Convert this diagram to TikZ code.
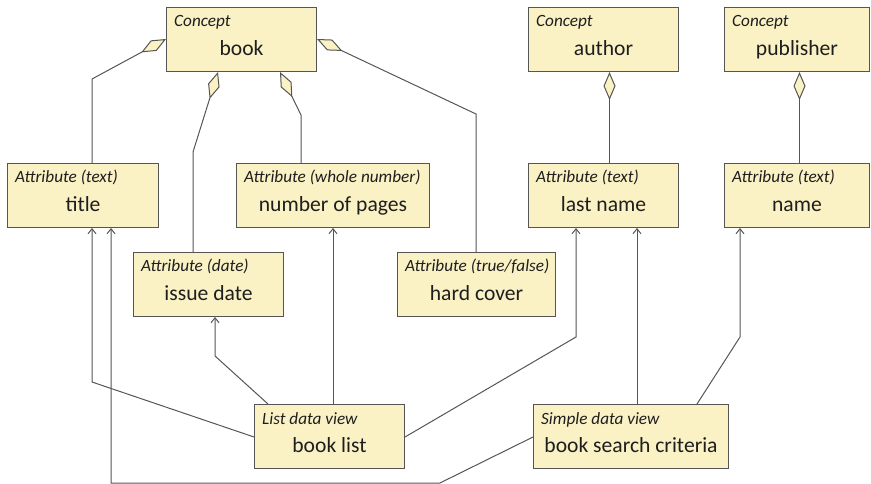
\documentclass[tikz,border=0pt]{standalone}
\usepackage{fontspec}
\setmainfont{Carlito}
\usetikzlibrary{arrows.meta, positioning}
\definecolor{BoxYellow}{RGB}{250, 242, 197}
\definecolor{LineGray}{RGB}{85, 85, 85}
\definecolor{TextGray}{RGB}{30, 30, 30}

\begin{document}
\begin{tikzpicture}[x=1pt, y=-1pt,
    box/.style={draw=LineGray, fill=BoxYellow, line width=1pt, anchor=north west,
      inner sep=0pt, text height=48pt, text depth=16pt,
      font=\fontsize{21.6}{25}\selectfont, text=TextGray},
    kind/.style={anchor=base west, inner sep=0pt,
      font=\fontsize{17.2}{19}\selectfont\itshape, text=TextGray},
    has/.style={draw=LineGray, line width=1pt,
      {Diamond[length=28pt, width=12pt, fill=BoxYellow]}-},
    uses/.style={draw=LineGray, line width=1pt,
      -{Straight Barb[length=5pt, width=8pt]}}]
    \useasboundingbox (0,0) rectangle (871,484);

    % Concepts
    \node[box, minimum width=150pt] (book) at (166,7) {book};
    \node[box, minimum width=150pt] (author) at (528,7) {author};
    \node[box, minimum width=145pt] (publisher) at (724,7) {publisher};

    % Attributes
    \node[box, minimum width=151pt] (title) at (7,163) {title};
    \node[box, minimum width=193pt] (pages) at (236,163) {number of pages};
    \node[box, minimum width=150pt] (lastname) at (528,163) {last name};
    \node[box, minimum width=145pt] (name) at (724,163) {name};
    \node[box, minimum width=150pt] (issue) at (133,252) {issue date};
    \node[box, minimum width=158pt] (hard) at (397,252) {hard cover};

    % Data views
    \node[box, minimum width=150pt] (booklist) at (254,404) {book list};
    \node[box, minimum width=195pt] (search) at (533,404) {book search criteria};

    % Kind labels in the top left corners
    \foreach \n/\k in {book/Concept, author/Concept, publisher/Concept,
        title/{Attribute (text)}, pages/{Attribute (whole number)},
        lastname/{Attribute (text)}, name/{Attribute (text)},
        issue/{Attribute (date)}, hard/{Attribute (true/false)},
        booklist/{List data view}, search/{Simple data view}} {
      \node[kind] (\n-kind) at ([xshift=8pt, yshift=-20pt]\n.north west) {\k};
    }

    % Aggregation
    \draw[has] ([yshift=-32pt]book.north west) -- (92,79) -- (title.north -| 92,79);
    \draw[has] ([xshift=52pt]book.south west) -- (193,152) -- (issue.north -| 193,152);
    \draw[has] ([xshift=114pt]book.south west) -- (301,115) -- (pages.north -| 301,115);
    \draw[has] ([yshift=-32pt]book.north east) -- (476,114) -- (hard.north -| 476,114);
    \draw[has] ([xshift=6pt]author.south) -- ([xshift=6pt]lastname.north);
    \draw[has] ([xshift=2.5pt]publisher.south) -- ([xshift=2.5pt]name.north);

    % Views using attributes
    \draw[uses] ([yshift=-33pt]booklist.north west) -- (92,382) -- (title.south -| 92,382);
    \draw[uses] ([xshift=14pt]booklist.north west) -- (215,356) -- (issue.south -| 215,356);
    \draw[uses] ([xshift=79pt]booklist.north west) -- (pages.south -| 333,0);
    \draw[uses] ([yshift=-33pt]booklist.north east) -- (576,337) -- (lastname.south -| 576,337);
    \draw[uses] ([yshift=-33pt]search.north west) -- (440,483) -- (111,483) -- (title.south -| 111,483);
    \draw[uses] ([xshift=104pt]search.north west) -- (lastname.south -| 637,0);
    \draw[uses] ([xshift=164pt]search.north west) -- (740,337) -- (name.south -| 740,337);
\end{tikzpicture}
\end{document}
